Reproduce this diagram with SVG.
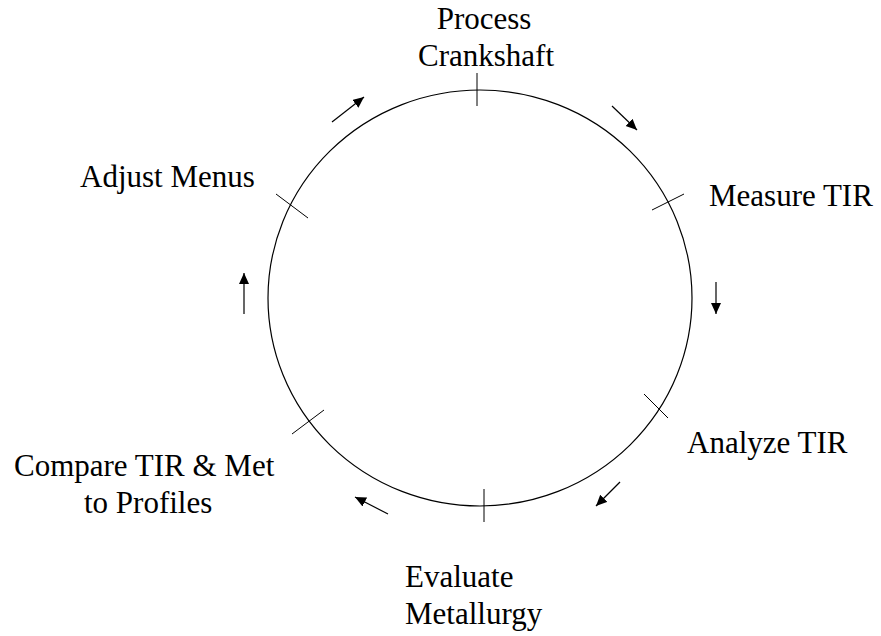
<svg xmlns="http://www.w3.org/2000/svg" width="881" height="636" viewBox="0 0 881 636">
<style>
text{font-family:"Liberation Serif","Times New Roman",serif;font-size:31px;fill:#000}
.tick{stroke:#000;stroke-width:1;fill:none}
.arr{stroke:#000;stroke-width:1.2;fill:none;marker-end:url(#ah)}
.ring{stroke:#000;stroke-width:1.2;fill:none}
</style>
<defs>
<marker id="ah" markerUnits="userSpaceOnUse" markerWidth="12" markerHeight="11" refX="11" refY="5" orient="auto">
<path d="M0,0 L11,5 L0,10 z" fill="#000"/>
</marker>
</defs>
<rect width="881" height="636" fill="#fff"/>
<g id="cycle">
<ellipse class="ring" cx="480" cy="298" rx="212" ry="208"/>
</g>
<g id="node-process">
<line class="tick" x1="477" y1="73" x2="477" y2="106"/>
<text x="484" y="29" text-anchor="middle">Process</text>
<text x="486" y="66" text-anchor="middle">Crankshaft</text>
</g>
<g id="node-measure">
<line class="tick" x1="652" y1="210" x2="684" y2="194"/>
<text x="709" y="206">Measure TIR</text>
</g>
<g id="node-analyze">
<line class="tick" x1="644" y1="394" x2="668" y2="418"/>
<text x="687" y="453">Analyze TIR</text>
</g>
<g id="node-evaluate">
<line class="tick" x1="484" y1="489" x2="484" y2="522"/>
<text x="405" y="587">Evaluate</text>
<text x="405" y="624">Metallurgy</text>
</g>
<g id="node-compare">
<line class="tick" x1="324" y1="410" x2="292" y2="434"/>
<text x="14" y="476">Compare TIR &amp; Met</text>
<text x="84" y="513">to Profiles</text>
</g>
<g id="node-adjust">
<line class="tick" x1="276" y1="194" x2="308" y2="218"/>
<text x="80" y="187">Adjust Menus</text>
</g>
<g id="connectors">
<line class="arr" x1="332" y1="122" x2="364" y2="97"/>
<line class="arr" x1="612" y1="106" x2="637" y2="130"/>
<line class="arr" x1="716" y1="282" x2="716" y2="314"/>
<line class="arr" x1="620" y1="482" x2="596" y2="506"/>
<line class="arr" x1="388" y1="514" x2="355" y2="497"/>
<line class="arr" x1="244" y1="314" x2="244" y2="273"/>
</g>
</svg>
